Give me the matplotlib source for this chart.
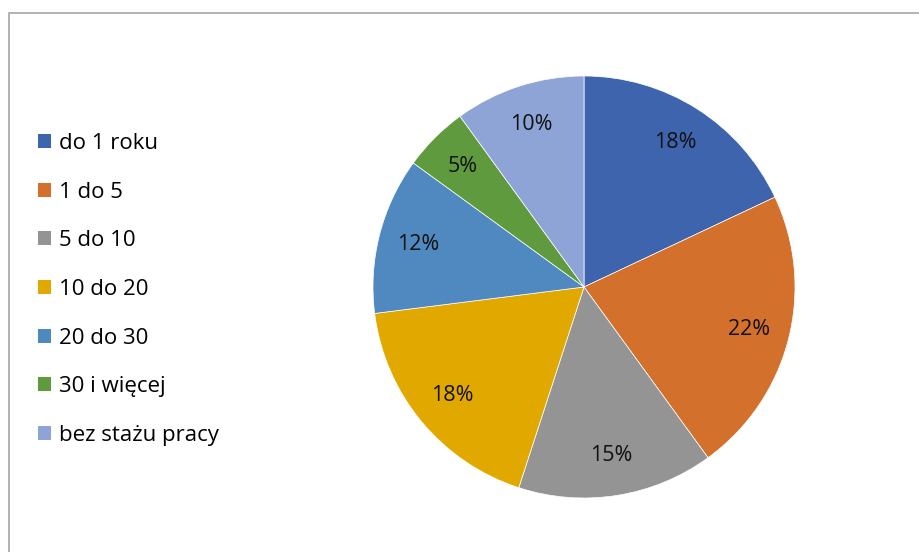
import matplotlib.pyplot as plt
from matplotlib.patches import Rectangle, Patch

plt.rcParams['font.family'] = ['Open Sans', 'DejaVu Sans']

# udział pracowników wg stażu pracy
kategorie = ['do 1 roku', '1 do 5', '5 do 10', '10 do 20',
             '20 do 30', '30 i więcej', 'bez stażu pracy']
udzial = [18, 22, 15, 18, 12, 5, 10]
kolory = ['#3D64AD', '#D3702B', '#949494', '#E1A900',
          '#4F89BF', '#5F9B3E', '#8FA4D6']

fig = plt.figure(figsize=(9.19, 5.52), dpi=100)
W, H = 919, 552

# ramka wykresu (prawa i dolna krawędź poza obrazem)
fig.patches.append(Rectangle((9 / W, -0.1), 1.2, (H - 13) / H + 0.1,
                             transform=fig.transFigure, fill=False,
                             edgecolor='#A6A6A6', linewidth=1.2))

cx, cy, r = 584, 287, 211
ax = fig.add_axes([(cx - r) / W, (H - cy - r) / H, 2 * r / W, 2 * r / H])
ax.pie(udzial, colors=kolory, startangle=90, counterclock=False,
       autopct='%1.0f%%', pctdistance=0.81, radius=1.0,
       wedgeprops=dict(linewidth=0.5, edgecolor='white'),
       textprops=dict(fontsize=15.5, color='#111111'))
ax.set_xlim(-1, 1)
ax.set_ylim(-1, 1)
ax.set_aspect('equal')
ax.axis('off')

uchwyty = [Patch(facecolor=k, edgecolor='none') for k in kolory]
fig.legend(uchwyty, kategorie, loc='upper left',
           bbox_to_anchor=(29 / W, 1 - 124 / H), frameon=False,
           fontsize=16, handlelength=0.6, handleheight=0.6,
           handletextpad=0.35, labelspacing=1.245, borderaxespad=0)

fig.savefig('out.png', dpi=100)
